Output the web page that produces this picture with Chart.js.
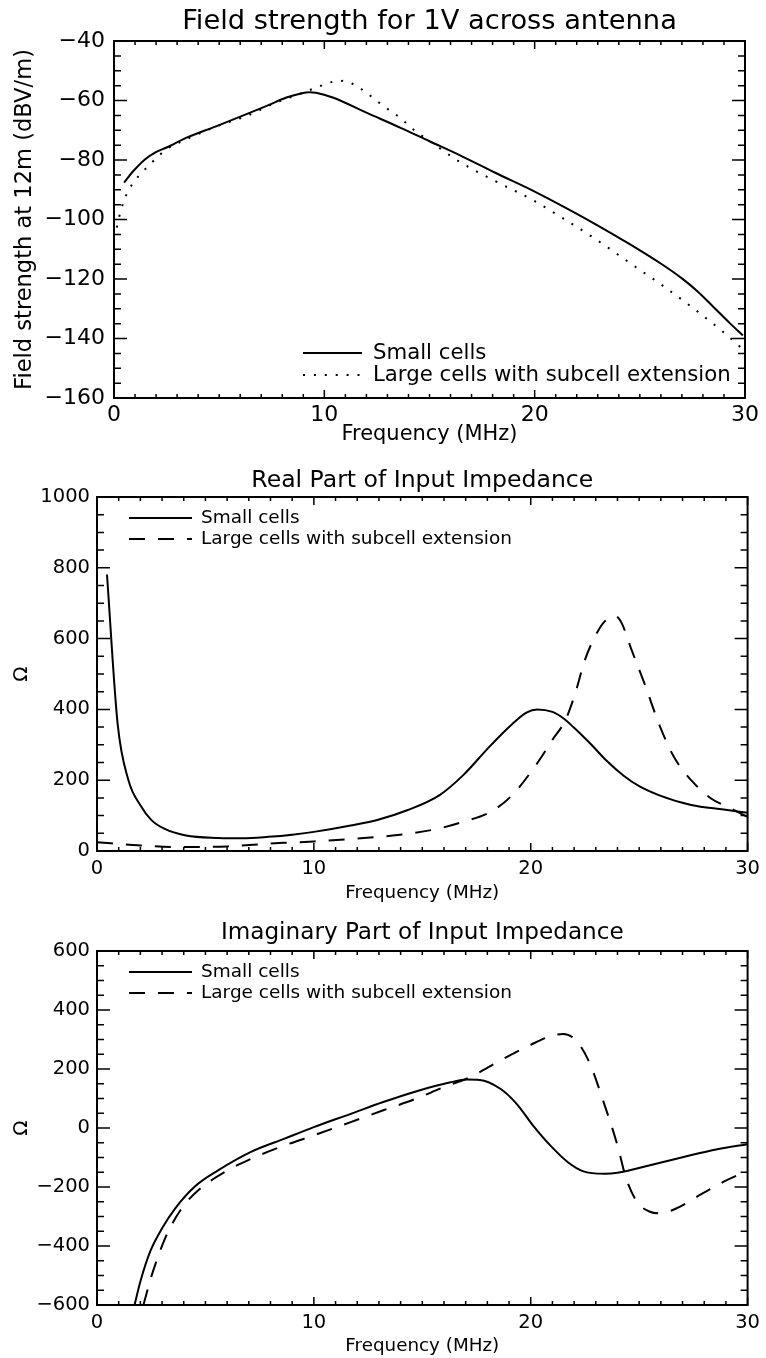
<!DOCTYPE html>
<html lang="en">
<head>
  <meta charset="UTF-8">
  <title>Antenna field strength and input impedance</title>
  <style>
    * { margin: 0; padding: 0; box-sizing: border-box; }
    body { width: 766px; height: 1358px; background: #fff; position: relative; overflow: hidden; }
    .panel { position: absolute; left: 0; width: 766px; }
    .panel canvas { display: block; }
  </style>
</head>
<body>
  <div class="panel" style="top:0;height:455px"><canvas id="fieldChart"></canvas></div>
  <div class="panel" style="top:455px;height:450px"><canvas id="realChart"></canvas></div>
  <div class="panel" style="top:905px;height:453px"><canvas id="imagChart"></canvas></div>

  <script src="https://cdn.jsdelivr.net/npm/chart.js"></script>
  <script>
    // ---- data (frequency in MHz) ----
    const fieldFreqSmall = [0.48, 0.92, 1.47, 1.95, 2.5, 3.45, 4.88, 6.3, 7.26, 8.2, 8.84, 9.3, 9.6, 10.4, 12, 13.6, 15, 16.5, 18.1, 20, 21.3, 22.9, 24.5, 26.1, 27, 27.8, 28.5, 29.3, 29.9];
    const fieldSmall = [-87.6, -83.7, -79.8, -77.5, -75.8, -72.5, -68.6, -64.6, -61.8, -59, -57.7, -57.2, -57.4, -59, -64.1, -69.1, -73.7, -78.6, -84.2, -90.6, -95.4, -101.6, -108.2, -115.3, -119.8, -124.5, -129.4, -135, -139];
    const fieldFreqLarge = [0.13, 0.32, 0.6, 0.92, 1.4, 1.95, 2.5, 3.45, 4.9, 6.3, 7.7, 8.8, 9.6, 10.4, 10.9, 11.4, 12, 12.8, 13.6, 14.2, 15, 16.5, 18.1, 20, 21.3, 22.9, 24.5, 26.1, 27.7, 29, 29.8];
    const fieldLarge = [-102.7, -97.1, -91.5, -87.6, -83.7, -79.8, -76.4, -73, -68.6, -65.2, -60.7, -57.9, -55.7, -53.7, -53.4, -54.6, -57.4, -61.8, -65.8, -69.6, -73.6, -80.9, -87, -93.8, -99.4, -106.6, -114.5, -122.3, -130.7, -138, -143];

    const realFreqSmall = [0.46, 0.95, 1.45, 2, 2.5, 3.1, 4.1, 5.6, 6.7, 7.9, 9, 10, 11.7, 13, 14.3, 15.8, 16.9, 18.1, 19.1, 19.8, 20.3, 21, 21.5, 22, 22.8, 23.5, 24.3, 25, 25.9, 27.4, 28.9, 30];
    const realSmall = [781, 360, 200, 129, 88, 63, 44, 37, 36, 40, 46, 54, 72, 89, 115, 158, 215, 295, 356, 391, 400, 393, 375, 348, 300, 255, 212, 183, 158, 130, 117, 108];
    const realFreqLarge = [0, 1.9, 4, 6, 8, 8.6, 10, 11.5, 13, 14.5, 15.8, 16.9, 18.1, 19.1, 20.3, 21, 21.6, 22.05, 22.5, 23, 23.4, 23.9, 24.2, 24.65, 25.3, 25.9, 26.6, 27.4, 28.3, 29.2, 30];
    const realLarge = [25, 16, 11, 13, 21, 23, 27, 33, 40, 50, 64, 83, 109, 155, 248, 314, 370, 445, 540, 610, 648, 664, 643, 568, 464, 361, 266, 200, 149, 121, 96];

    const imagFreqSmall = [1.73, 2, 2.45, 3, 3.6, 4.5, 5.6, 7.1, 8.65, 10, 11.7, 13.2, 14.7, 16.3, 17.05, 17.65, 18.6, 19.35, 20.1, 20.9, 21.7, 22.4, 23.4, 24, 25.5, 27.05, 28.6, 30];
    const imagSmall = [-600, -520, -419, -340, -273, -199, -143, -81, -36, 3, 48, 88, 124, 155, 164, 163, 133, 82, 9, -59, -115, -146, -155, -152, -126, -98, -72, -55];
    const imagFreqLarge = [2.14, 2.53, 3.14, 3.9, 4.67, 5.9, 7.12, 8.65, 10, 11.7, 13.2, 14.7, 16, 17.2, 18.6, 20, 20.9, 21.5, 22.1, 22.7, 23.36, 24, 24.4, 24.9, 25.5, 25.95, 26.7, 27.8, 28.9, 30];
    const imagLarge = [-600, -498, -374, -273, -211, -149, -104, -59, -25, 20, 60, 99, 139, 172, 229, 282, 311, 319, 296, 223, 88, -59, -171, -250, -284, -289, -273, -227, -182, -145];

    const seriesLabels = ['Small cells', 'Large cells with subcell extension'];

    // ---- helpers ----
    const FONT = "'DejaVu Sans', 'Liberation Sans', sans-serif";
    const measureCtx = document.createElement('canvas').getContext('2d');
    function fitSize(text, width) {
      measureCtx.font = '100px ' + FONT;
      return 100 * width / measureCtx.measureText(text).width;
    }
    const pts = (xs, ys) => xs.map((x, i) => ({ x, y: ys[i] }));
    const minus = v => String(v).replace('-', '\u2212');

    // IDL-style box with inward ticks on all four sides
    const boxTicks = {
      id: 'boxTicks',
      afterDatasetsDraw(chart, args, o) {
        const { ctx, chartArea: a, scales: { x, y } } = chart;
        ctx.save();
        ctx.strokeStyle = '#000';
        ctx.lineWidth = 1.5;
        ctx.beginPath();
        for (let v = x.min; v <= x.max + 1e-9; v += o.xMinor) {
          const px = x.getPixelForValue(v);
          const major = Math.abs(v / o.xMajor - Math.round(v / o.xMajor)) < 1e-6;
          const len = major ? 8 : 4;
          ctx.moveTo(px, a.bottom); ctx.lineTo(px, a.bottom - len);
          ctx.moveTo(px, a.top); ctx.lineTo(px, a.top + len);
        }
        for (let v = y.min; v <= y.max + 1e-9; v += o.yMinor) {
          const py = y.getPixelForValue(v);
          const major = Math.abs(v / o.yMajor - Math.round(v / o.yMajor)) < 1e-6;
          const len = major ? 13 : 7;
          ctx.moveTo(a.left, py); ctx.lineTo(a.left + len, py);
          ctx.moveTo(a.right, py); ctx.lineTo(a.right - len, py);
        }
        ctx.stroke();
        ctx.lineWidth = 2;
        ctx.strokeRect(a.left, a.top, a.right - a.left, a.bottom - a.top);
        ctx.restore();
      }
    };

    // title centred over the plot and a legend drawn inside it
    const headAndKey = {
      id: 'headAndKey',
      afterDraw(chart, args, o) {
        const { ctx, chartArea: a } = chart;
        ctx.save();
        ctx.fillStyle = '#000';
        ctx.textBaseline = 'middle';
        ctx.textAlign = 'center';
        ctx.font = o.titleSize + 'px ' + FONT;
        ctx.fillText(o.title, (a.left + a.right) / 2, o.titleY);

        ctx.textAlign = 'left';
        ctx.font = o.keySize + 'px ' + FONT;
        chart.data.datasets.forEach((ds, i) => {
          const yy = o.keyRows[i];
          ctx.strokeStyle = ds.borderColor;
          ctx.lineWidth = ds.borderWidth;
          ctx.setLineDash(ds.borderDash || []);
          ctx.beginPath();
          ctx.moveTo(o.keyX0, yy);
          ctx.lineTo(o.keyX1, yy);
          ctx.stroke();
          ctx.fillText(ds.label, o.keyText, yy);
        });
        ctx.restore();
      }
    };

    function makeChart(id, g) {
      const tickFont = { family: FONT, size: g.tickSize };
      return new Chart(document.getElementById(id), {
        type: 'line',
        data: {
          datasets: [
            { label: seriesLabels[0], data: g.small, borderColor: '#000', borderWidth: 2, borderDash: [],
              pointRadius: 0, fill: false, cubicInterpolationMode: 'monotone' },
            { label: seriesLabels[1], data: g.large, borderColor: '#000', borderWidth: 2, borderDash: g.dash,
              pointRadius: 0, fill: false, cubicInterpolationMode: 'monotone' }
          ]
        },
        options: {
          responsive: true,
          maintainAspectRatio: false,
          animation: false,
          events: [],
          layout: { padding: { top: g.top, right: g.right, left: 0, bottom: 0 } },
          plugins: {
            legend: { display: false },
            tooltip: { enabled: false },
            boxTicks: { xMajor: 10, xMinor: 1, yMajor: g.yStep, yMinor: g.yMinor },
            headAndKey: g.key
          },
          scales: {
            x: {
              type: 'linear', min: 0, max: 30,
              grid: { display: false, drawTicks: false },
              border: { display: false },
              ticks: { stepSize: 10, color: '#000', font: tickFont, padding: g.xPad, maxRotation: 0 },
              title: { display: true, text: 'Frequency (MHz)', color: '#000',
                       font: { family: FONT, size: g.xTitleSize }, padding: { top: 0, bottom: g.xTitlePad } },
              afterFit: s => { s.height = g.xHeight; }
            },
            y: {
              type: 'linear', min: g.yMin, max: g.yMax,
              grid: { display: false, drawTicks: false },
              border: { display: false },
              ticks: { stepSize: g.yStep, color: '#000', font: tickFont, padding: g.yPad, callback: minus },
              title: { display: true, text: g.yTitle, color: '#000',
                       font: { family: FONT, size: g.yTitleSize }, padding: { top: g.yTitlePad, bottom: 0 } },
              afterFit: s => { s.width = g.left; }
            }
          }
        },
        plugins: [boxTicks, headAndKey]
      });
    }

    makeChart('fieldChart', {
      small: pts(fieldFreqSmall, fieldSmall),
      large: pts(fieldFreqLarge, fieldLarge),
      dash: [2, 8.9],
      top: 41, right: 21, left: 114, xHeight: 57,
      yMin: -160, yMax: -40, yStep: 20, yMinor: 5,
      tickSize: 22, xPad: 4, yPad: 9,
      xTitleSize: fitSize('Frequency (MHz)', 176), xTitlePad: 8,
      yTitle: 'Field strength at 12m (dBV/m)', yTitleSize: fitSize('Field strength at 12m (dBV/m)', 341), yTitlePad: 12,
      key: {
        title: 'Field strength for 1V across antenna', titleSize: fitSize('Field strength for 1V across antenna', 495), titleY: 22,
        keySize: fitSize(seriesLabels[1], 358), keyX0: 303, keyX1: 362, keyText: 373, keyRows: [353, 375]
      }
    });

    makeChart('realChart', {
      small: pts(realFreqSmall, realSmall),
      large: pts(realFreqLarge, realLarge),
      dash: [16, 13],
      top: 42, right: 15, left: 97, xHeight: 54,
      yMin: 0, yMax: 1000, yStep: 200, yMinor: 50,
      tickSize: 19.5, xPad: 6, yPad: 7,
      xTitleSize: fitSize('Frequency (MHz)', 154), xTitlePad: 1,
      yTitle: '\u03A9', yTitleSize: 20, yTitlePad: 10,
      key: {
        title: 'Real Part of Input Impedance', titleSize: fitSize('Real Part of Input Impedance', 342), titleY: 26,
        keySize: fitSize(seriesLabels[1], 311), keyX0: 129, keyX1: 192, keyText: 201, keyRows: [63, 84]
      }
    });

    makeChart('imagChart', {
      small: pts(imagFreqSmall, imagSmall),
      large: pts(imagFreqLarge, imagLarge),
      dash: [16, 13],
      top: 46, right: 16, left: 97, xHeight: 53,
      yMin: -600, yMax: 600, yStep: 200, yMinor: 50,
      tickSize: 19.5, xPad: 6, yPad: 7,
      xTitleSize: fitSize('Frequency (MHz)', 154), xTitlePad: 1,
      yTitle: '\u03A9', yTitleSize: 20, yTitlePad: 10,
      key: {
        title: 'Imaginary Part of Input Impedance', titleSize: fitSize('Imaginary Part of Input Impedance', 403), titleY: 28,
        keySize: fitSize(seriesLabels[1], 311), keyX0: 129, keyX1: 192, keyText: 201, keyRows: [67, 88]
      }
    });
  </script>
</body>
</html>
